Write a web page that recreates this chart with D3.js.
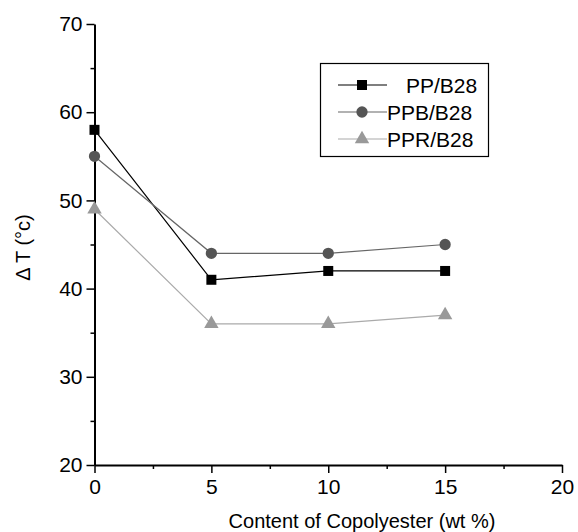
<!DOCTYPE html>
<html>
<head>
<meta charset="utf-8">
<script src="https://cdn.jsdelivr.net/npm/d3@7"></script>
<style>
  body { margin: 0; background: #fff; }
  text { font-family: Arial, "Liberation Sans", sans-serif; }
</style>
</head>
<body>
<div id="chart"></div>
<script>
var width = 578, height = 532;
var margin = {top: 24, right: 16, bottom: 67, left: 94.5};

// data
var contents = [0, 5, 10, 15];
var ppValues = [58, 41, 42, 42];
var ppbValues = [55, 44, 44, 45];
var pprValues = [49, 36, 36, 37];
var seriesNames = ["PP/B28", "PPB/B28", "PPR/B28"];
var xTicks = [0, 5, 10, 15, 20];
var yTicks = [20, 30, 40, 50, 60, 70];

var series = [
    {name: seriesNames[0], values: ppValues, color: "#000", line: "#000", shape: d3.symbolSquare},
    {name: seriesNames[1], values: ppbValues, color: "#555", line: "#666", shape: d3.symbolCircle},
    {name: seriesNames[2], values: pprValues, color: "#999", line: "#aaa", shape: d3.symbolTriangle}
];

var svg = d3.select("#chart")
    .append("svg")
    .attr("width", width)
    .attr("height", height);

var x = d3.scaleLinear().domain([0, 20]).range([margin.left, width - margin.right]);
var y = d3.scaleLinear().domain([20, 70]).range([height - margin.bottom, margin.top]);

// minor ticks
svg.append("g")
    .attr("transform", `translate(0, ${y(20)})`)
    .call(d3.axisBottom(x).tickValues(d3.range(2.5, 20, 5)).tickSize(4).tickFormat(""))
    .call(function(g) { g.select(".domain").remove(); })
    .selectAll("line").attr("stroke-width", 1.5);

svg.append("g")
    .attr("transform", `translate(${x(0)}, 0)`)
    .call(d3.axisLeft(y).tickValues(d3.range(25, 70, 10)).tickSize(4).tickFormat(""))
    .call(function(g) { g.select(".domain").remove(); })
    .selectAll("line").attr("stroke-width", 1.5);

var xAxis = svg.append("g")
    .attr("transform", `translate(0, ${y(20)})`)
    .call(d3.axisBottom(x).tickValues(xTicks).tickSize(8).tickSizeOuter(0).tickPadding(6));

var yAxis = svg.append("g")
    .attr("transform", `translate(${x(0)}, 0)`)
    .call(d3.axisLeft(y).tickValues(yTicks).tickSize(8).tickSizeOuter(0).tickPadding(4));

[xAxis, yAxis].forEach(function(g) {
    g.select(".domain").attr("stroke-width", 2);
    g.selectAll(".tick line").attr("stroke-width", 1.5);
    g.selectAll("text").style("font-size", "21px").attr("fill", "#000");
});

svg.append("text")
    .attr("x", 362)
    .attr("y", 528)
    .style("text-anchor", "middle")
    .style("font-size", "20px")
    .text("Content of Copolyester (wt %)");

svg.append("text")
    .attr("transform", `translate(30, ${(y(20) + y(70)) / 2 + 3}) rotate(-90)`)
    .style("text-anchor", "middle")
    .style("font-size", "20px")
    .text("\u0394 T (\u00b0c)");

var line = d3.line()
    .x(function(d, i) { return x(contents[i]); })
    .y(function(d) { return y(d); });

series.forEach(function(s) {
    svg.append("path")
        .attr("d", line(s.values))
        .attr("fill", "none")
        .attr("stroke", s.line)
        .attr("stroke-width", 1.2);

    svg.selectAll(null)
        .data(s.values)
        .enter()
        .append("path")
        .attr("transform", function(d, i) { return `translate(${x(contents[i])}, ${y(d)})`; })
        .attr("d", d3.symbol().type(s.shape).size(s.shape === d3.symbolTriangle ? 90 : 100))
        .attr("fill", s.color);
});

// legend
var legend = svg.append("g");
legend.append("rect")
    .attr("x", 320.5).attr("y", 63.5)
    .attr("width", 168).attr("height", 93)
    .attr("fill", "#fff").attr("stroke", "#000").attr("stroke-width", 1.2);

series.forEach(function(s, i) {
    var ly = 85 + i * 27;
    legend.append("line")
        .attr("x1", 338).attr("x2", 387)
        .attr("y1", ly).attr("y2", ly)
        .attr("stroke", s.line).attr("stroke-width", 1.2);
    legend.append("path")
        .attr("transform", `translate(362, ${ly})`)
        .attr("d", d3.symbol().type(s.shape).size(s.shape === d3.symbolTriangle ? 90 : 100))
        .attr("fill", s.color);
    legend.append("text")
        .attr("x", i === 0 ? 406 : 387)
        .attr("y", ly + 7.5)
        .style("font-size", "21px")
        .text(s.name);
});
</script>
</body>
</html>
